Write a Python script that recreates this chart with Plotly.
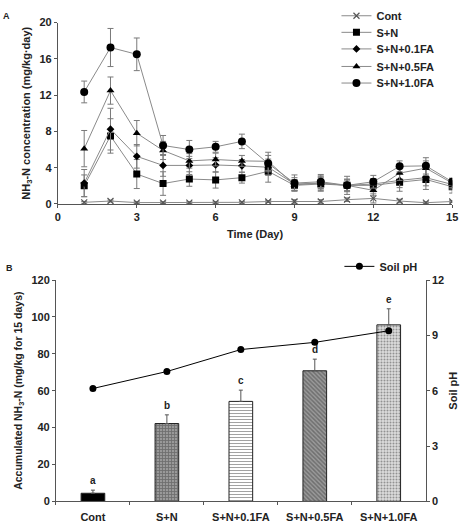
import plotly.graph_objects as go

# ---------------- Data: panel A ----------------
days = list(range(1, 16))
cont = [0.18, 0.32, 0.15, 0.15, 0.15, 0.15, 0.18, 0.27, 0.27, 0.27, 0.47, 0.61, 0.32, 0.14, 0.27]
cont_err = [0.1, 0.1, 0.1, 0.1, 0.1, 0.1, 0.1, 0.1, 0.2, 0.2, 0.2, 0.5, 0.2, 0.1, 0.1]
sn = [2.0, 7.5, 3.3, 2.25, 2.75, 2.65, 2.9, 3.6, 2.05, 2.2, 2.05, 2.05, 2.4, 2.7, 1.9]
sn_err = [1.2, 1.9, 1.6, 1.3, 0.8, 0.9, 0.6, 1.2, 0.6, 0.8, 0.6, 0.7, 1.0, 1.1, 0.7]
fa01 = [2.3, 8.25, 5.25, 4.25, 4.25, 4.3, 4.2, 4.05, 2.2, 2.3, 2.05, 2.2, 2.6, 2.9, 2.15]
fa01_err = [1.5, 2.3, 1.3, 1.2, 1.0, 0.8, 0.7, 0.9, 0.7, 0.8, 0.7, 0.6, 0.8, 0.9, 0.5]
fa05 = [6.1, 12.5, 7.8, 5.9, 4.75, 4.9, 4.75, 4.7, 2.1, 2.3, 2.05, 1.5, 3.4, 3.95, 2.3]
fa05_err = [2.0, 1.5, 1.4, 1.0, 0.8, 0.7, 0.6, 1.0, 0.6, 0.6, 0.6, 0.6, 0.8, 0.8, 0.5]
fa10 = [12.35, 17.25, 16.5, 6.45, 6.0, 6.3, 6.9, 4.45, 2.3, 2.45, 2.05, 2.45, 4.15, 4.2, 2.45]
fa10_err = [1.2, 2.1, 1.8, 1.1, 1.0, 0.6, 0.8, 0.9, 0.9, 0.8, 1.0, 0.7, 0.6, 0.9, 0.4]

# ---------------- Data: panel B ----------------
treatments = ["Cont", "S+N", "S+N+0.1FA", "S+N+0.5FA", "S+N+1.0FA"]
accumulated = [4.4, 42.2, 54.2, 70.8, 95.7]
accumulated_err = [1.7, 4.7, 6.1, 6.3, 8.7]
sig_letters = ["a", "b", "c", "d", "e"]
soil_ph = [6.12, 7.04, 8.23, 8.62, 9.25]

FONT = "Liberation Sans, Arial, sans-serif"
W, H = 468, 523
LINE_GRAY = "#8a8a8a"
ERR_GRAY = "#7a7a7a"
TXT = "#222222"

fig = go.Figure()

series = [
    ("Cont", cont, cont_err, "x-thin", 6, LINE_GRAY),
    ("S+N", sn, sn_err, "square", 7, "black"),
    ("S+N+0.1FA", fa01, fa01_err, "diamond", 6, "black"),
    ("S+N+0.5FA", fa05, fa05_err, "triangle-up", 7, "black"),
    ("S+N+1.0FA", fa10, fa10_err, "circle", 8, "black"),
]
legend_rows_px = [10, 27, 44, 62, 79]
legend_font = dict(family=FONT, size=11, color=TXT, weight="bold")
legend_layouts = {}
for i, (name, vals, errs, sym, size, mcol) in enumerate(series):
    marker = dict(symbol=sym, size=size, color=mcol)
    if sym == "x-thin":
        marker["line"] = dict(color="#555555", width=1.2)
    lname = "legend" if i == 0 else f"legend{i + 2}"
    legend_layouts[lname] = dict(x=340 / W, y=1 - legend_rows_px[i] / H, xanchor="left", yanchor="middle",
                                 bgcolor="rgba(0,0,0,0)", font=legend_font)
    fig.add_trace(go.Scatter(
        x=days, y=vals, name=name, mode="lines+markers",
        line=dict(color=LINE_GRAY, width=1),
        marker=marker,
        error_y=dict(type="data", array=errs, visible=True, color=ERR_GRAY, thickness=1, width=3),
        xaxis="x", yaxis="y", legend=lname,
    ))

# Panel B bars
fig.add_trace(go.Bar(
    x=treatments, y=accumulated, width=0.32,
    marker=dict(color=["black", "#9a9a9a", "white", "#9a9a9a", "#dddddd"],
                line=dict(color="#222222", width=1),
                pattern=dict(shape=["", "+", "-", "\\", "."],
                             size=3,
                             solidity=[0.3, 0.5, 0.35, 0.5, 0.35],
                             fgcolor=["black", "#2a2a2a", "#666666", "#333333", "#888888"],
                             bgcolor=["black", "#a8a8a8", "white", "#a8a8a8", "#e6e6e6"])),
    error_y=dict(type="data", symmetric=False, array=accumulated_err,
                 arrayminus=[0] * len(accumulated_err), color="#555555", thickness=1, width=2),
    showlegend=False, xaxis="x2", yaxis="y2",
))

fig.add_trace(go.Scatter(
    x=treatments, y=soil_ph, name="Soil pH", mode="lines+markers",
    line=dict(color="black", width=1), marker=dict(symbol="circle", size=7, color="black"),
    xaxis="x2", yaxis="y3", legend="legend2",
))

# significance letters
for t, v, e, l in zip(treatments, accumulated, accumulated_err, sig_letters):
    fig.add_annotation(x=t, y=v + e, xref="x2", yref="y2", text=l, showarrow=False,
                       yanchor="bottom", yshift=2, font=dict(family=FONT, size=10, color=TXT, weight="bold"))

# panel labels
fig.add_annotation(x=-2 / W, y=1 - 10 / H, xref="paper", yref="paper", text="A", showarrow=False,
                   xanchor="left", yanchor="middle", font=dict(family=FONT, size=9, color=TXT, weight="bold"))
fig.add_annotation(x=1 / W, y=1 - 269 / H, xref="paper", yref="paper", text="B", showarrow=False,
                   xanchor="left", yanchor="middle", font=dict(family=FONT, size=9, color=TXT, weight="bold"))

tickf = dict(family=FONT, size=11, color=TXT, weight="bold")
titlef = dict(family=FONT, size=11, color=TXT, weight="bold")
titlef_b = dict(family=FONT, size=10.5, color=TXT, weight="bold")
axis_common = dict(showline=True, linecolor="#555", linewidth=1, ticks="outside", tickcolor="#555",
                   ticklen=3, showgrid=False, zeroline=False, tickfont=tickf)

fig.update_layout(
    width=W, height=H, margin=dict(l=0, r=0, t=0, b=0),
    paper_bgcolor="white", plot_bgcolor="white",
    font=dict(family=FONT, color=TXT, weight="bold"),
    xaxis=dict(domain=[56 / W, 458 / W], range=[0, 15], tickvals=[0, 3, 6, 9, 12, 15],
               title=dict(text="Time (Day)", font=titlef, standoff=8), anchor="y", **axis_common),
    yaxis=dict(domain=[1 - 203 / H, 1 - 17 / H], range=[0, 20], tickvals=[0, 4, 8, 12, 16, 20],
               title=dict(text="NH<sub>3</sub>-N concentration (mg/kg·day)", font=titlef, standoff=6),
               anchor="x", **axis_common),
    xaxis2=dict(domain=[54 / W, 431 / W], anchor="y2", tickson="boundaries", ticklabelstandoff=5,
                **axis_common),
    yaxis2=dict(domain=[1 - 508 / H, 1 - 281 / H], range=[0, 120], tickvals=[0, 20, 40, 60, 80, 100, 120],
                title=dict(text="Accumulated NH<sub>3</sub>-N (mg/kg for 15 days)", font=titlef_b, standoff=6),
                anchor="x2", **axis_common),
    yaxis3=dict(overlaying="y2", side="right", range=[0, 12], tickvals=[0, 3, 6, 9, 12],
                title=dict(text="Soil pH", font=titlef, standoff=6), anchor="x2", **axis_common),
    legend2=dict(x=343 / W, y=1 - 267 / H, xanchor="left", yanchor="middle", bgcolor="rgba(0,0,0,0)",
                 font=legend_font),
    bargap=0.68,
)
fig.update_layout(**legend_layouts)

fig.write_html("out.html")
